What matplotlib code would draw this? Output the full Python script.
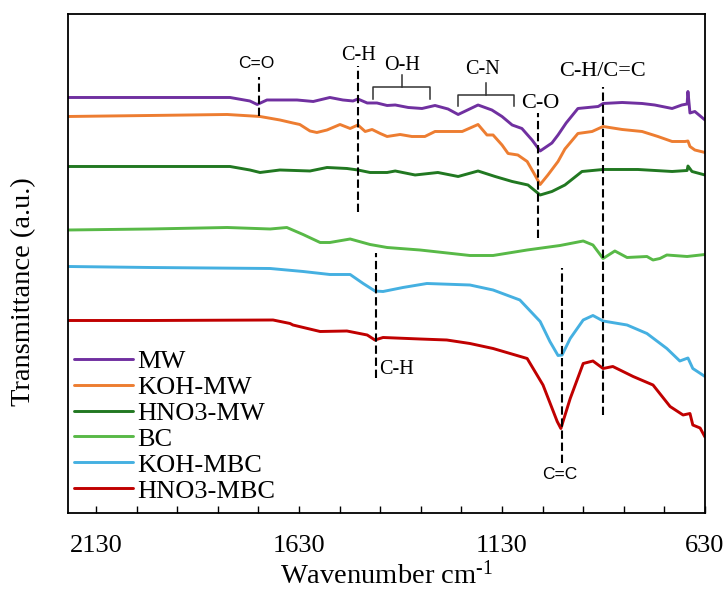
import matplotlib
matplotlib.use("Agg")
import matplotlib.pyplot as plt

plt.rcParams['font.family'] = ['Liberation Serif', 'DejaVu Serif']
plt.rcParams['mathtext.fontset'] = 'custom'
plt.rcParams['mathtext.rm'] = 'Liberation Serif'
plt.rcParams['mathtext.it'] = 'Liberation Serif:italic'

# ---- spectra (wavenumber in cm-1, transmittance in arbitrary offset units) ----
names = ['MW', 'KOH-MW', 'HNO3-MW', 'BC', 'KOH-MBC', 'HNO3-MBC']
colors = ['#7030A0', '#ED7D31', '#217821', '#58B947', '#45B0E1', '#C00000']

wn_mw = [2199, 1997, 1800, 1751, 1733, 1709, 1635, 1595, 1554, 1522, 1497, 1485,
         1462, 1438, 1413, 1393, 1361, 1327, 1295, 1263, 1238, 1189, 1155, 1130,
         1105, 1081, 1056, 1036, 1007, 992, 972, 943, 893, 881, 834, 785, 754,
         711, 687, 674, 672, 667, 655, 630]
t_mw = [83.1, 83.1, 83.1, 82.4, 81.7, 82.6, 82.6, 82.3, 83.1, 82.6, 82.4, 82.8,
        82.0, 82.0, 81.5, 81.6, 81.1, 80.9, 81.5, 80.8, 79.7, 81.6, 80.6, 79.3,
        77.6, 76.9, 74.6, 72.4, 74.0, 75.6, 78.0, 80.9, 81.3, 81.9, 82.1, 81.9, 81.6,
        80.9, 81.6, 81.8, 84.3, 80.0, 80.3, 78.6]

wn_koh_mw = [2199, 1997, 1807, 1726, 1677, 1645, 1628, 1603, 1586, 1561, 1529, 1504,
             1485, 1467, 1450, 1430, 1413, 1381, 1352, 1320, 1295, 1228, 1189, 1167,
             1152, 1130, 1115, 1091, 1068, 1049, 1036, 1017, 992, 975, 943, 908, 881,
             834, 785, 746, 711, 679, 672, 667, 655, 630]
t_koh_mw = [79.3, 79.5, 79.7, 79.3, 78.6, 78.0, 77.7, 76.4, 76.1, 76.6, 77.7, 76.9,
            77.6, 76.3, 76.7, 75.9, 75.3, 75.7, 75.3, 75.3, 76.3, 76.3, 77.7, 75.6,
            75.6, 73.6, 71.9, 71.6, 70.3, 67.6, 65.7, 67.6, 70.3, 72.8, 75.9, 76.3, 77.3,
            76.7, 76.3, 75.3, 74.3, 74.3, 74.4, 73.3, 72.6, 72.1]

wn_hno3_mw = [2199, 1997, 1800, 1751, 1726, 1677, 1603, 1561, 1512, 1485, 1455, 1413,
              1393, 1344, 1288, 1238, 1189, 1147, 1105, 1066, 1036, 1007, 975, 933,
              881, 795, 711, 674, 672, 662, 630]
t_hno3_mw = [69.3, 69.3, 69.3, 68.6, 68.1, 68.6, 68.4, 69.1, 68.9, 68.6, 68.1, 68.1,
             68.4, 67.6, 68.1, 67.3, 68.4, 67.3, 66.3, 65.6, 63.6, 64.3, 65.6, 68.3,
             68.7, 68.7, 68.3, 68.5, 69.4, 68.3, 67.6]

wn_bc = [2199, 1997, 1807, 1701, 1660, 1620, 1578, 1554, 1504, 1455, 1413, 1332,
         1209, 1152, 1068, 987, 930, 906, 881, 852, 822, 773, 758, 741, 724, 674, 630]
t_bc = [56.6, 56.8, 57.1, 56.8, 57.1, 55.7, 54.1, 54.1, 54.8, 53.7, 53.1, 52.6,
        51.5, 51.5, 52.6, 53.5, 54.4, 53.6, 50.9, 52.4, 51.1, 51.3, 50.6, 50.9, 51.6,
        51.3, 51.7]

wn_koh_mbc = [2199, 1997, 1701, 1620, 1554, 1504, 1472, 1443, 1423, 1374, 1315, 1209,
              1152, 1086, 1036, 1012, 992, 982, 962, 930, 906, 881, 822, 773, 724,
              692, 672, 660, 630]
t_koh_mbc = [49.3, 49.1, 48.9, 48.3, 47.7, 47.7, 45.9, 44.4, 44.3, 45.1, 45.9, 45.6,
             44.6, 42.6, 38.3, 34.3, 31.5, 31.6, 34.9, 38.6, 39.5, 38.4, 37.6, 35.9, 32.9,
             30.4, 31.0, 28.9, 27.3]

wn_hno3_mbc = [2199, 1997, 1694, 1652, 1645, 1578, 1512, 1462, 1443, 1423, 1332, 1266,
               1209, 1152, 1068, 1029, 994, 985, 962, 930, 906, 881, 857, 807, 758,
               716, 684, 667, 660, 642, 630]
t_hno3_mbc = [38.5, 38.5, 38.6, 37.9, 37.6, 36.3, 36.4, 35.6, 34.6, 35.1, 34.8, 34.6,
              33.9, 32.9, 30.9, 25.6, 18.3, 16.9, 22.9, 29.9, 30.4, 28.9, 29.3, 27.3, 25.6,
              21.3, 19.6, 19.9, 17.6, 17.0, 15.2]

spectra_wn = [wn_mw, wn_koh_mw, wn_hno3_mw, wn_bc, wn_koh_mbc, wn_hno3_mbc]
spectra_t = [t_mw, t_koh_mw, t_hno3_mw, t_bc, t_koh_mbc, t_hno3_mbc]

# ---- band assignments: dashed guide lines ----
band_labels = ['C=O', 'C-H', 'C-O', 'C-H/C=C', 'C-H', 'C=C']
band_wn = [1729, 1485, 1041, 881, 1440, 982]
band_lo = [79.4, 60.2, 55.0, 19.6, 27.0, 10.0]
band_hi = [87.2, 89.4, 80.0, 85.2, 52.0, 49.0]
band_text_wn = [1736, 1483, 1036, 882, 1432, 987]
band_text_t = [89.9, 91.4, 81.9, 88.3, 28.6, 7.8]

# ---- band assignments: bracketed regions ----
region_labels = ['O-H', 'C-N']
region_left = [1448, 1238]
region_right = [1307, 1100]
region_top = [85.2, 83.6]
region_bottom = [82.8, 81.4]
region_mid = [1376, 1169]
region_tick = [87.6, 85.9]
region_text_wn = [1376, 1177]
region_text_t = [89.5, 88.6]

tick_positions = list(range(2130, 629, -100))

fig = plt.figure(figsize=(7.25, 5.9), dpi=100)
ax = fig.add_axes([0.0938, 0.1305, 0.8786, 0.8458])

for wn, t, name, col in zip(spectra_wn, spectra_t, names, colors):
    ax.plot(wn, t, color=col, lw=2.1, label=name,
            solid_joinstyle='round', solid_capstyle='round')

for wn, lo, hi in zip(band_wn, band_lo, band_hi):
    ax.plot([wn, wn], [lo, hi], color='black', lw=1.5, ls=(0, (4, 1.8)))

label_style = {
    'C=O': dict(family='Liberation Sans', size=12.5),
    'C=C': dict(family='Liberation Sans', size=12.5),
    'C-O': dict(size=16),
    'C-H/C=C': dict(size=16),
}
for i, (lab, x, y) in enumerate(zip(band_labels, band_text_wn, band_text_t)):
    style = label_style.get(lab, dict(size=14.5))
    ha = 'left' if i == 4 else 'center'
    ax.text(x, y, lab, ha=ha, va='center', **style)

for lab, l, r, top, bot, mid, tk, tx, ty in zip(region_labels, region_left, region_right,
                                                   region_top, region_bottom, region_mid,
                                                   region_tick, region_text_wn, region_text_t):
    ax.plot([l, l, r, r], [bot, top, top, bot], color='#333333', lw=1.1)
    ax.plot([mid, mid], [top, tk], color='#333333', lw=1.1)
    ax.text(tx, ty, lab, ha='center', va='center', size=14.5)

ax.set_xlim(2199, 630)
ax.set_ylim(0, 99.8)
ax.set_xticks(tick_positions)
ax.set_xticklabels([str(v) if (2130 - v) % 500 == 0 else '' for v in tick_positions])
ax.set_yticks([])
ax.tick_params(axis='x', direction='in', length=5, width=1, labelsize=19, pad=16)
for sp in ax.spines.values():
    sp.set_linewidth(1.3)
    sp.set_color('black')

ax.set_xlabel(r'Wavenumber cm$^{\text{-1}}$', fontsize=20.5, labelpad=3)
ax.set_ylabel('Transmittance (a.u.)', fontsize=20.5)
ax.yaxis.set_label_coords(-0.050, 0.443)

ax.legend(loc='upper left', bbox_to_anchor=(0.0094, 0.328), frameon=False,
          fontsize=19, handlelength=2.24, handletextpad=0.15, labelspacing=0.095,
          borderpad=0, borderaxespad=0)

fig.savefig('out.png', dpi=100)
